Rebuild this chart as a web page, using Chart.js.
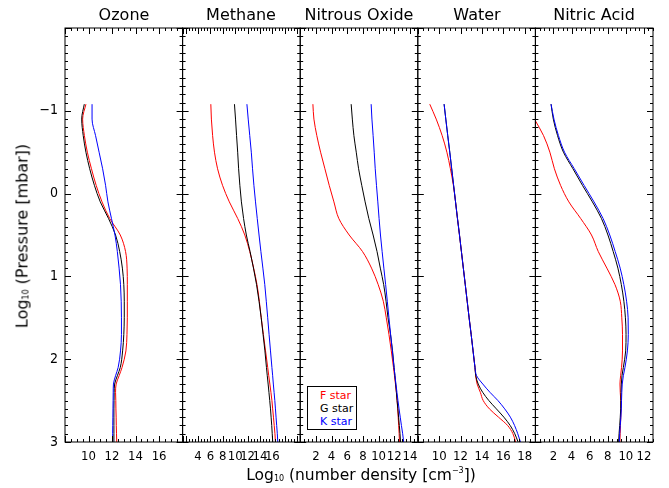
<!DOCTYPE html>
<html>
<head>
<meta charset="utf-8">
<script src="https://cdn.jsdelivr.net/npm/chart.js@4.4.1/dist/chart.umd.min.js"></script>
<style>
  body { margin: 0; background: #fff; }
  #wrap { position: relative; width: 669px; height: 488px; font-family: "DejaVu Sans", sans-serif; color: #000; }
  #wrap canvas { position: absolute; left: 0; top: 0; }
  .title { position: absolute; top: 5px; font-size: 16px; transform: translateX(-50%); white-space: nowrap; }
  .xlabel { position: absolute; left: 361px; top: 466px; font-size: 15.5px; transform: translateX(-50%); white-space: nowrap; }
  .ylabel { position: absolute; left: 22px; top: 236px; font-size: 16px; transform: translate(-50%, -50%) rotate(-90deg); white-space: nowrap; }
  sub, sup { font-size: 8px; }
  sub { vertical-align: -1px; }
  sup { vertical-align: 7px; }
  #legend { position: absolute; left: 307px; top: 386px; width: 50px; height: 44px; border: 1px solid #000; font-size: 11px; line-height: 13px; box-sizing: border-box; padding: 2px 0 0 12px; background: #fff; }
</style>
</head>
<body>
<div id="wrap">
  <canvas id="c0" width="669" height="488"></canvas>
  <canvas id="c1" width="669" height="488"></canvas>
  <canvas id="c2" width="669" height="488"></canvas>
  <canvas id="c3" width="669" height="488"></canvas>
  <canvas id="c4" width="669" height="488"></canvas>
  <div class="title" style="left:124px">Ozone</div>
  <div class="title" style="left:241px">Methane</div>
  <div class="title" style="left:359px">Nitrous Oxide</div>
  <div class="title" style="left:477px">Water</div>
  <div class="title" style="left:594px">Nitric Acid</div>
  <div class="ylabel">Log<sub>10</sub> (Pressure [mbar])</div>
  <div class="xlabel">Log<sub>10</sub> (number density [cm<sup>−3</sup>])</div>
  <div id="legend">
    <div style="color:#ff0000">F star</div>
    <div style="color:#000000">G star</div>
    <div style="color:#0000ff">K star</div>
  </div>
</div>
<script>
// log10 pressure levels (mbar) shared by every profile
const levels = [-1.08, -0.9, -0.7, -0.5, -0.3, -0.1, 0.1, 0.3, 0.5, 0.7, 0.9, 1.1, 1.3,
  1.5, 1.7, 1.9, 2.1, 2.2, 2.3, 2.4, 2.5, 2.6, 2.7, 2.8, 2.9, 3.0];

const ozoneF = [9.78, 9.5, 9.65, 9.9, 10.25, 10.65, 11.15, 11.8, 12.7, 13.15, 13.28, 13.3, 13.3,
  13.3, 13.27, 13.18, 12.85, 12.6, 12.35, 12.3, 12.32, 12.33, 12.35, 12.36, 12.38, 12.4];
const ozoneG = [9.64, 9.42, 9.55, 9.78, 10.1, 10.5, 11.0, 11.7, 12.3, 12.65, 12.88, 13.0, 13.04,
  13.04, 13.0, 12.9, 12.7, 12.45, 12.22, 12.18, 12.17, 12.16, 12.16, 12.16, 12.16, 12.16];
const ozoneK = [10.3, 10.3, 10.6, 10.9, 11.2, 11.45, 11.65, 11.95, 12.25, 12.45, 12.6, 12.72, 12.78,
  12.8, 12.8, 12.72, 12.52, 12.3, 12.12, 12.1, 12.09, 12.08, 12.07, 12.06, 12.05, 12.05];

const methaneF = [6.06, 6.15, 6.35, 6.65, 7.15, 7.95, 9.05, 10.4, 11.55, 12.35, 12.98, 13.52, 13.9,
  14.2, 14.55, 14.9, 15.25, 15.42, 15.6, 15.77, 15.93, 16.05, 16.18, 16.3, 16.42, 16.5];
const methaneG = [9.88, 10.05, 10.22, 10.4, 10.55, 10.75, 11.0, 11.35, 11.8, 12.4, 12.95, 13.45, 13.85,
  14.2, 14.5, 14.8, 15.05, 15.18, 15.32, 15.45, 15.58, 15.7, 15.8, 15.9, 15.98, 16.06];
const methaneK = [11.89, 12.1, 12.35, 12.6, 12.8, 13.02, 13.28, 13.56, 13.85, 14.15, 14.47, 14.78, 15.02,
  15.25, 15.47, 15.7, 15.93, 16.05, 16.16, 16.28, 16.4, 16.5, 16.6, 16.7, 16.8, 16.88];

const nitrousF = [1.62, 1.75, 2.12, 2.6, 3.15, 3.7, 4.3, 4.92, 6.25, 7.95, 9.1, 9.95, 10.6,
  10.98, 11.32, 11.62, 11.9, 12.03, 12.15, 12.27, 12.36, 12.44, 12.5, 12.56, 12.62, 12.66];
const nitrousG = [6.5, 6.65, 6.85, 7.15, 7.45, 7.85, 8.28, 8.75, 9.3, 9.8, 10.22, 10.65, 10.95,
  11.2, 11.52, 11.78, 11.98, 12.08, 12.18, 12.27, 12.36, 12.46, 12.55, 12.64, 12.73, 12.8];
const nitrousK = [9.05, 9.15, 9.3, 9.44, 9.57, 9.73, 9.9, 10.06, 10.24, 10.45, 10.67, 10.9, 11.11,
  11.32, 11.53, 11.75, 11.97, 12.09, 12.21, 12.34, 12.47, 12.61, 12.76, 12.91, 13.07, 13.2];

const waterF = [9.12, 9.72, 10.28, 10.72, 11.05, 11.33, 11.53, 11.71, 11.9, 12.08, 12.26, 12.44, 12.62,
  12.8, 12.99, 13.17, 13.35, 13.42, 13.55, 13.85, 14.12, 14.7, 15.55, 16.4, 16.9, 17.15];
const waterG = [10.46, 10.62, 10.8, 10.99, 11.17, 11.35, 11.53, 11.71, 11.9, 12.08, 12.26, 12.44, 12.62,
  12.8, 12.99, 13.17, 13.35, 13.42, 13.65, 14.07, 14.65, 15.35, 16.05, 16.64, 17.07, 17.38];
const waterK = [10.46, 10.62, 10.8, 10.99, 11.17, 11.35, 11.53, 11.71, 11.9, 12.08, 12.26, 12.44, 12.62,
  12.8, 12.99, 13.17, 13.35, 13.5, 14.08, 14.75, 15.5, 16.13, 16.66, 17.05, 17.35, 17.6];

const nitricF = [-1.1, -0.11, 0.9, 1.6, 2.1, 2.78, 3.7, 5.0, 6.2, 6.95, 7.9, 8.8, 9.38,
  9.55, 9.63, 9.63, 9.52, 9.42, 9.35, 9.38, 9.44, 9.46, 9.44, 9.4, 9.37, 9.34];
const nitricG = [1.73, 1.98, 2.45, 3.1, 4.15, 5.2, 6.3, 7.3, 8.02, 8.6, 9.12, 9.5, 9.78,
  9.95, 10.02, 9.98, 9.72, 9.57, 9.5, 9.47, 9.45, 9.43, 9.38, 9.32, 9.25, 9.2];
const nitricK = [1.73, 2.05, 2.55, 3.22, 4.3, 5.38, 6.48, 7.48, 8.22, 8.82, 9.37, 9.78, 10.08,
  10.25, 10.27, 10.17, 9.9, 9.72, 9.6, 9.55, 9.52, 9.5, 9.45, 9.38, 9.32, 9.28];

// axis ranges and labelled ticks
const xRanges = [[8, 18], [1.5, 20.5], [0, 15], [8, 19], [0, 13]];
const ozoneTicks = [10, 12, 14, 16];
const methaneTicks = [4, 6, 8, 10, 12, 14, 16];
const nitrousTicks = [2, 4, 6, 8, 10, 12, 14];
const waterTicks = [10, 12, 14, 16, 18];
const nitricTicks = [2, 4, 6, 8, 10, 12];
const pressureTicks = [-1, 0, 1, 2, 3];

const starNames = ["F star", "G star", "K star"];
const starColors = ["#ff0000", "#000000", "#0000ff"];

const panels = [
  { series: [ozoneF, ozoneG, ozoneK], ticks: ozoneTicks },
  { series: [methaneF, methaneG, methaneK], ticks: methaneTicks },
  { series: [nitrousF, nitrousG, nitrousK], ticks: nitrousTicks },
  { series: [waterF, waterG, waterK], ticks: waterTicks },
  { series: [nitricF, nitricG, nitricK], ticks: nitricTicks },
];

const plotLeft = 65, plotRight = 653, plotTop = 28, plotBottom = 442;
const panelW = (plotRight - plotLeft) / panels.length;
const xAxisH = 30, yAxisW = 60;
const FONT = "'DejaVu Sans Condensed', 'DejaVu Sans', sans-serif";

// IDL style box: inward major / minor ticks on all four sides
const boxTicks = {
  id: "boxTicks",
  afterDraw(chart) {
    const { ctx, chartArea: a } = chart;
    const xs = chart.scales.x, ys = chart.scales.y;
    ctx.save();
    ctx.strokeStyle = "#000";
    ctx.lineWidth = 1;
    ctx.strokeRect(a.left, a.top, a.right - a.left, a.bottom - a.top);
    ctx.beginPath();
    for (let k = -20; k <= 30; k++) {
      const y = Math.round(ys.getPixelForValue(k / 10)) + 0.5;
      const len = k % 10 === 0 ? 6 : 3;
      ctx.moveTo(a.left, y); ctx.lineTo(a.left + len, y);
      ctx.moveTo(a.right, y); ctx.lineTo(a.right - len, y);
    }
    for (let v = Math.ceil(xs.min * 2) / 2; v <= xs.max; v += 0.5) {
      const x = Math.round(xs.getPixelForValue(v)) + 0.5;
      const len = v % 2 === 0 ? 6 : 3;
      ctx.moveTo(x, a.bottom); ctx.lineTo(x, a.bottom - len);
      ctx.moveTo(x, a.top); ctx.lineTo(x, a.top + len);
    }
    ctx.stroke();
    ctx.restore();
  }
};

panels.forEach((p, i) => {
  const left = plotLeft + i * panelW;
  const hasY = i === 0;
  const datasets = p.series.map((vals, s) => ({
    label: starNames[s],
    data: levels.map((lp, j) => ({ x: vals[j], y: lp })),
    borderColor: starColors[s],
    borderWidth: 1,
    pointRadius: 0,
    order: 2 - s,
  }));

  new Chart(document.getElementById("c" + i), {
    type: "line",
    data: { datasets },
    options: {
      responsive: false,
      animation: false,
      indexAxis: "y",
      layout: {
        padding: {
          left: hasY ? left - yAxisW : left,
          right: 669 - left - panelW,
          top: plotTop,
          bottom: 488 - plotBottom - xAxisH,
        },
      },
      elements: { line: { cubicInterpolationMode: "monotone" } },
      scales: {
        x: {
          type: "linear",
          position: "bottom",
          min: xRanges[i][0],
          max: xRanges[i][1],
          grid: { display: false, drawTicks: false },
          border: { display: false },
          afterBuildTicks: (s) => { s.ticks = p.ticks.map((v) => ({ value: v })); },
          afterFit: (s) => { s.height = xAxisH; },
          ticks: {
            autoSkip: false,
            maxRotation: 0,
            minRotation: 0,
            padding: 7,
            color: "#000",
            font: { family: FONT, size: 13 },
          },
        },
        y: {
          type: "linear",
          position: "left",
          reverse: true,
          min: -2,
          max: 3,
          display: hasY,
          grid: { display: false, drawTicks: false },
          border: { display: false },
          afterBuildTicks: (s) => { s.ticks = pressureTicks.map((v) => ({ value: v })); },
          afterFit: (s) => { s.width = hasY ? yAxisW : 0; },
          ticks: {
            autoSkip: false,
            padding: 7,
            color: "#000",
            font: { family: FONT, size: 14 },
            callback: (v) => (v < 0 ? "\u2212" + Math.abs(v) : String(v)),
          },
        },
      },
      plugins: {
        legend: { display: false },
        tooltip: { enabled: false },
      },
    },
    plugins: [boxTicks],
  });
});
</script>
</body>
</html>
